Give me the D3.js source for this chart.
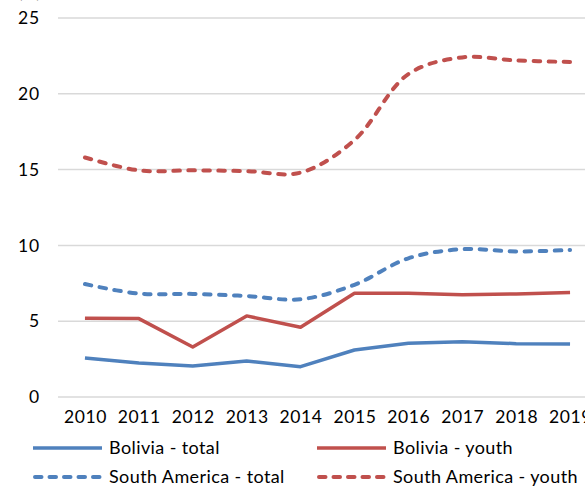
<!DOCTYPE html>
<html>
<head>
<meta charset="utf-8">
<script src="https://cdn.jsdelivr.net/npm/d3@7"></script>
<style>
  html, body { margin: 0; padding: 0; background: #fff; }
  svg { display: block; font-family: "Lato", "DejaVu Sans", sans-serif; }
</style>
</head>
<body>
<svg id="chart" width="585" height="486"></svg>
<script>
// Unemployment rate (%), Bolivia vs South America, total and youth
const years = ["2010","2011","2012","2013","2014","2015","2016","2017","2018","2019"];
const boliviaTotal = [2.57, 2.24, 2.05, 2.37, 2.0, 3.1, 3.55, 3.65, 3.52, 3.5];
const boliviaYouth = [5.2, 5.17, 3.3, 5.35, 4.6, 6.85, 6.85, 6.75, 6.8, 6.9];
const southAmericaTotal = [7.45, 6.82, 6.8, 6.66, 6.45, 7.4, 9.15, 9.75, 9.6, 9.7];
const southAmericaYouth = [15.8, 14.95, 14.95, 14.9, 14.8, 16.95, 21.3, 22.4, 22.2, 22.1];
const yTicks = [0, 5, 10, 15, 20, 25];

const series = [
  { name: "Bolivia - total", values: boliviaTotal, color: "#4f81bd", dashed: false },
  { name: "Bolivia - youth", values: boliviaYouth, color: "#c0504d", dashed: false },
  { name: "South America - total", values: southAmericaTotal, color: "#4f81bd", dashed: true },
  { name: "South America - youth", values: southAmericaYouth, color: "#c0504d", dashed: true }
];

const svg = d3.select("#chart");
const plot = { left: 58, right: 597, top: 18, bottom: 397 };

const x = d3.scalePoint().domain(years).range([plot.left, plot.right]).padding(0.5);
const y = d3.scaleLinear().domain([0, 25]).range([plot.bottom, plot.top]);

// gridlines
svg.append("g").selectAll("line").data(yTicks).join("line")
  .attr("x1", plot.left).attr("x2", plot.right)
  .attr("y1", d => y(d)).attr("y2", d => y(d))
  .attr("stroke", "#d9d9d9").attr("stroke-width", 1.5);

// y axis labels
const yAxis = svg.append("g")
  .attr("transform", `translate(${plot.left},0)`)
  .call(d3.axisLeft(y).tickValues(yTicks).tickSize(0).tickPadding(18));
yAxis.select(".domain").remove();
yAxis.selectAll("text").attr("font-size", 17.5).attr("fill", "#000")
  .attr("letter-spacing", 0.8)
  .style("font-family", "Lato, 'DejaVu Sans', sans-serif");

// x axis labels
const xAxis = svg.append("g")
  .attr("transform", `translate(0,${plot.bottom})`)
  .call(d3.axisBottom(x).tickSize(0).tickPadding(14));
xAxis.select(".domain").remove();
xAxis.selectAll("text").attr("font-size", 17.5).attr("fill", "#000")
  .attr("letter-spacing", 0.6)
  .style("font-family", "Lato, 'DejaVu Sans', sans-serif");

// unit label at the top-left
svg.append("text").attr("x", 18).attr("y", -2)
  .attr("font-size", 17).attr("fill", "#000").text("(%)");

// lines
const straight = d3.line().x((d, i) => x(years[i])).y(d => y(d));
const smooth = d3.line().x((d, i) => x(years[i])).y(d => y(d)).curve(d3.curveCatmullRom.alpha(0.5));

svg.append("g").selectAll("path").data(series).join("path")
  .attr("d", s => (s.dashed ? smooth : straight)(s.values))
  .attr("fill", "none")
  .attr("stroke", s => s.color)
  .attr("stroke-width", s => s.dashed ? 4 : 3.5)
  .attr("stroke-linejoin", "round")
  .attr("stroke-linecap", s => s.dashed ? "round" : "butt")
  .attr("stroke-dasharray", s => s.dashed ? "6.5,8.5" : null);

// legend (2 columns)
const legendPos = [
  { x: 33, y: 448 }, { x: 317, y: 448 },
  { x: 33, y: 477 }, { x: 317, y: 477 }
];
const leg = svg.append("g").selectAll("g").data(series).join("g")
  .attr("transform", (s, i) => `translate(${legendPos[i].x},${legendPos[i].y})`);
leg.append("line")
  .attr("x1", s => s.dashed ? 2 : 0).attr("x2", s => s.dashed ? 67 : 69)
  .attr("stroke", s => s.color).attr("stroke-width", s => s.dashed ? 4 : 3.5)
  .attr("stroke-linecap", s => s.dashed ? "round" : "butt")
  .attr("stroke-dasharray", s => s.dashed ? "6.5,8" : null);
leg.append("text").attr("x", 76).attr("dy", "0.35em")
  .attr("font-size", 18).attr("letter-spacing", 0.4)
  .attr("fill", "#000").text(s => s.name);
</script>
</body>
</html>
